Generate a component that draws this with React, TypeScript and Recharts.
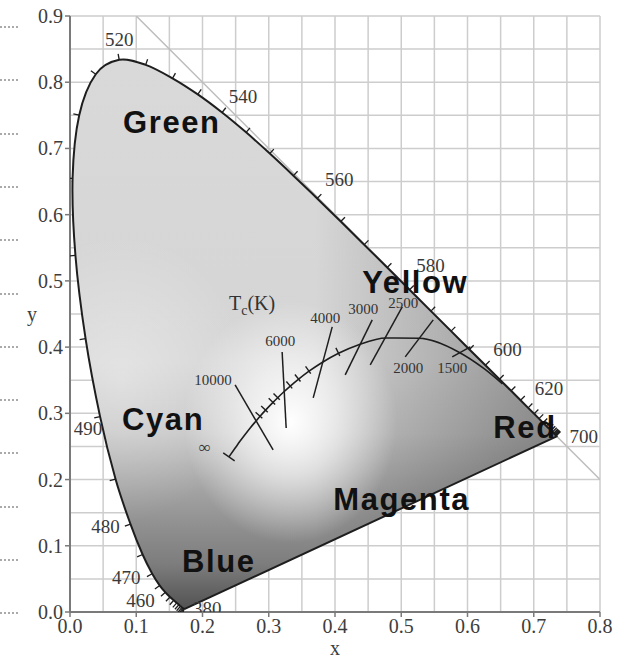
import React from 'react'
import { ScatterChart, Scatter, XAxis, YAxis, CartesianGrid, Curve } from 'recharts'

// CIE 1931 spectral locus, 5 nm steps
const wavelengths = [
  380, 385, 390, 395, 400, 405, 410, 415, 420, 425, 430, 435, 440, 445, 450, 455, 460, 465, 470, 475,
  480, 485, 490, 495, 500, 505, 510, 515, 520, 525, 530, 535, 540, 545, 550, 555, 560, 565, 570, 575,
  580, 585, 590, 595, 600, 605, 610, 615, 620, 625, 630, 635, 640, 645, 650, 655, 660, 665, 670, 675,
  680, 685, 690, 695, 700,
]
const locusX = [
  0.1741, 0.174, 0.1738, 0.1736, 0.1733, 0.173, 0.1726, 0.1721, 0.1714, 0.1703, 0.1689, 0.1669, 0.1644,
  0.1611, 0.1566, 0.151, 0.144, 0.1355, 0.1241, 0.1096, 0.0913, 0.0687, 0.0454, 0.0235, 0.0082, 0.0039,
  0.0139, 0.0389, 0.0743, 0.1142, 0.1547, 0.1929, 0.2296, 0.2658, 0.3016, 0.3373, 0.3731, 0.4087, 0.4441,
  0.4788, 0.5125, 0.5448, 0.5752, 0.6029, 0.627, 0.6482, 0.6658, 0.6801, 0.6915, 0.7006, 0.7079, 0.714,
  0.719, 0.723, 0.726, 0.7283, 0.73, 0.7311, 0.732, 0.7327, 0.7334, 0.734, 0.7344, 0.7346, 0.7347,
]
const locusY = [
  0.005, 0.005, 0.0049, 0.0049, 0.0048, 0.0048, 0.0048, 0.0048, 0.0051, 0.0058, 0.0069, 0.0086, 0.0109,
  0.0138, 0.0177, 0.0227, 0.0297, 0.0399, 0.0578, 0.0868, 0.1327, 0.2007, 0.295, 0.4127, 0.5384, 0.6548,
  0.7502, 0.812, 0.8338, 0.8262, 0.8059, 0.7816, 0.7543, 0.7243, 0.6923, 0.6589, 0.6245, 0.5896, 0.5547,
  0.5202, 0.4866, 0.4544, 0.4242, 0.3965, 0.3725, 0.3514, 0.334, 0.3197, 0.3083, 0.2993, 0.292, 0.2859,
  0.2809, 0.277, 0.274, 0.2717, 0.27, 0.2689, 0.268, 0.2673, 0.2666, 0.266, 0.2656, 0.2654, 0.2653,
]
const labeledWavelengths = [380, 460, 470, 480, 490, 500, 520, 540, 560, 580, 600, 620, 700]

// Planckian locus, from infinity down to 1000 K
const planckTemps = [
  Infinity, 30000, 20000, 15000, 12000, 10000, 9000, 8000, 7000, 6500, 6000, 5500, 5000, 4500, 4000,
  3500, 3000, 2500, 2000, 1500, 1200, 1000,
]
const planckX = [
  0.2399, 0.2501, 0.2565, 0.2637, 0.272, 0.2807, 0.2869, 0.2952, 0.3064, 0.3135, 0.3221, 0.3325, 0.3451,
  0.3608, 0.3805, 0.4053, 0.4369, 0.477, 0.5267, 0.5857, 0.6251, 0.6528,
]
const planckY = [
  0.2342, 0.2487, 0.2577, 0.2673, 0.2779, 0.2883, 0.2956, 0.3048, 0.3166, 0.3236, 0.3318, 0.3411, 0.3516,
  0.3636, 0.3768, 0.3907, 0.4041, 0.4137, 0.4133, 0.3931, 0.3674, 0.3444,
]
const planckTickTemps = [9000, 8000, 7000, 6500, 5500, 5000, 4500, 3500]

// isotherm segments (upper end, lower end)
const isoTemps = [10000, 6000, 4000, 3000, 2500, 2000, 1500]
const isoX1 = [0.2492, 0.3202, 0.3958, 0.4562, 0.5015, 0.5483, 0.6042]
const isoY1 = [0.3429, 0.3927, 0.4305, 0.4411, 0.4607, 0.4411, 0.4003]
const isoX2 = [0.3066, 0.3263, 0.3671, 0.4154, 0.4532, 0.506, 0.577]
const isoY2 = [0.2447, 0.2779, 0.3233, 0.358, 0.3731, 0.3852, 0.3852]

const xTicks = [0, 0.05, 0.1, 0.15, 0.2, 0.25, 0.3, 0.35, 0.4, 0.45, 0.5, 0.55, 0.6, 0.65, 0.7, 0.75, 0.8]
const yTicks = [
  0, 0.05, 0.1, 0.15, 0.2, 0.25, 0.3, 0.35, 0.4, 0.45, 0.5, 0.55, 0.6, 0.65, 0.7, 0.75, 0.8, 0.85, 0.9,
]

const regionNames = ['Green', 'Cyan', 'Yellow', 'Red', 'Magenta', 'Blue']
const regionX = [0.0801, 0.0785, 0.4411, 0.639, 0.3973, 0.1692]
const regionY = [0.7236, 0.2749, 0.4819, 0.2628, 0.1541, 0.0604]

const locusData = wavelengths.map((w, i) => ({ x: locusX[i], y: locusY[i], w }))
const planckData = planckTemps.map((t, i) => ({ x: planckX[i], y: planckY[i], t }))
const isoData = isoTemps.flatMap((t, i) => [
  { x: isoX1[i], y: isoY1[i], t },
  { x: isoX2[i], y: isoY2[i], t },
])
const diagonalData = [
  { x: 0.1, y: 0.9 },
  { x: 0.8, y: 0.2 },
]
const regionData = regionNames.map((name, i) => ({ x: regionX[i], y: regionY[i], name }))
const tcData = [{ x: 0.24, y: 0.456 }]

// label placement, in pixels from the anchor point
const wlOffsets: Record<number, [number, number]> = {
  380: [22, 0], 460: [-25, 8], 470: [-26, 4], 480: [-25, 2], 490: [-12, 12], 500: [-27, -2],
  520: [0, -20], 540: [21, -16], 560: [22, -19], 580: [21, -24], 600: [22, -16], 620: [21, -19],
  700: [27, 0],
}
const isoLabelOffsets: [number, number, number][] = [
  [0, -22, -5], [0, -2, -11], [0, -7, -9], [0, -9, -11], [0, 1, -4], [1, 3, 11], [1, 0, 11],
]

const serif = '"Liberation Serif", "Times New Roman", serif'
const sans = '"Liberation Sans", Arial, sans-serif'
const ink = '#1e1e1e'

const isMajor = (v: number) => Math.abs(v * 10 - Math.round(v * 10)) < 1e-6
const getPts = (props: any) => (props.points || []) as { x: number; y: number }[]
const noDot = () => <g />

// smooth path through the points (catmull-rom, handles clamped for uneven spacing)
function smoothPath(pts: { x: number; y: number }[]) {
  let d = `M${pts[0].x},${pts[0].y}`
  for (let i = 0; i < pts.length - 1; i++) {
    const p0 = pts[Math.max(0, i - 1)]
    const p1 = pts[i]
    const p2 = pts[i + 1]
    const p3 = pts[Math.min(pts.length - 1, i + 2)]
    const seg = Math.hypot(p2.x - p1.x, p2.y - p1.y)
    const clamp = (hx: number, hy: number) => {
      const l = Math.hypot(hx, hy)
      const m = seg * 0.4
      return l > m && l > 0 ? [(hx * m) / l, (hy * m) / l] : [hx, hy]
    }
    const [ax, ay] = clamp((p2.x - p0.x) / 6, (p2.y - p0.y) / 6)
    const [bx, by] = clamp((p3.x - p1.x) / 6, (p3.y - p1.y) / 6)
    d += ` C${p1.x + ax},${p1.y + ay} ${p2.x - bx},${p2.y - by} ${p2.x},${p2.y}`
  }
  return d
}

function XTick({ x, y, payload }: any) {
  if (!isMajor(payload.value)) return <g />
  return (
    <g>
      <line x1={x} x2={x} y1={y - 7} y2={y - 2} stroke="#7a7a7a" strokeWidth={1.5} />
      <text x={x} y={y} dy="0.71em" textAnchor="middle" fontFamily={serif} fontSize={20} fill="#3d3d3d">
        {payload.value.toFixed(1)}
      </text>
    </g>
  )
}

function YTick({ x, y, payload }: any) {
  if (!isMajor(payload.value)) return <g />
  return (
    <g>
      <line x1={x + 2} x2={x + 7} y1={y} y2={y} stroke="#7a7a7a" strokeWidth={1.5} />
      <text x={x} y={y} dy="0.35em" textAnchor="end" fontFamily={serif} fontSize={20} fill="#3d3d3d">
        {payload.value.toFixed(1)}
      </text>
    </g>
  )
}

function renderLocus(props: any) {
  const pts = getPts(props)
  if (pts.length < 2) return <g />
  const d = smoothPath(pts) + ' Z'
  const ticks = pts.map((p, i) => {
    const a = pts[Math.max(0, i - 1)]
    const b = pts[Math.min(pts.length - 1, i + 1)]
    const tx = b.x - a.x
    const ty = b.y - a.y
    const len = Math.hypot(tx, ty)
    if (len < 0.8) return null
    const nx = ty / len
    const ny = -tx / len
    const w = wavelengths[i]
    const L = w === 500 ? 12 : 6
    return (
      <line key={w} x1={p.x} y1={p.y} x2={p.x + nx * L} y2={p.y + ny * L} stroke={ink} strokeWidth={1.3} />
    )
  })
  const labels = labeledWavelengths.map((w) => {
    const i = wavelengths.indexOf(w)
    const p = pts[i]
    const [dx, dy] = wlOffsets[w]
    return (
      <text
        key={w}
        x={p.x + dx}
        y={p.y + dy}
        dy="0.35em"
        textAnchor="middle"
        fontFamily={serif}
        fontSize={19}
        fill="#3a3a3a"
      >
        {w}
      </text>
    )
  })
  return (
    <g>
      <defs>
        <linearGradient id="locusBase" x1="0" y1="0" x2="0" y2="1">
          <stop offset="0" stopColor="#d9d9d9" />
          <stop offset="0.55" stopColor="#d5d5d5" />
          <stop offset="0.68" stopColor="#c4c4c4" />
          <stop offset="0.8" stopColor="#9e9e9e" />
          <stop offset="0.92" stopColor="#7c7c7c" />
          <stop offset="1" stopColor="#525252" />
        </linearGradient>
        <linearGradient id="locusRed" x1="0" y1="0" x2="1" y2="0">
          <stop offset="0.5" stopColor="#000" stopOpacity={0} />
          <stop offset="1" stopColor="#000" stopOpacity={0.32} />
        </linearGradient>
        <radialGradient id="locusWhite" cx="0.45" cy="0.66" r="0.22">
          <stop offset="0" stopColor="#fff" stopOpacity={1} />
          <stop offset="0.45" stopColor="#fff" stopOpacity={0.6} />
          <stop offset="1" stopColor="#fff" stopOpacity={0} />
        </radialGradient>
        <radialGradient id="locusCyan" cx="0.1" cy="0.58" r="0.26">
          <stop offset="0" stopColor="#fff" stopOpacity={0.35} />
          <stop offset="1" stopColor="#fff" stopOpacity={0} />
        </radialGradient>
      </defs>
      <path d={d} fill="url(#locusBase)" />
      <path d={d} fill="url(#locusRed)" />
      <path d={d} fill="url(#locusCyan)" />
      <path d={d} fill="url(#locusWhite)" />
      <path d={d} fill="none" stroke={ink} strokeWidth={2} strokeLinejoin="round" />
      {ticks}
      {labels}
    </g>
  )
}

function renderPlanck(props: any) {
  const pts = getPts(props)
  if (pts.length < 2) return <g />
  const perp = (i: number, a: number, b: number, key: string) => {
    const p = pts[i]
    const q = pts[Math.max(0, i - 1)]
    const r = pts[Math.min(pts.length - 1, i + 1)]
    const tx = r.x - q.x
    const ty = r.y - q.y
    const len = Math.hypot(tx, ty) || 1
    const nx = ty / len
    const ny = -tx / len
    return (
      <line key={key} x1={p.x - nx * a} y1={p.y - ny * a} x2={p.x + nx * b} y2={p.y + ny * b} stroke={ink} strokeWidth={1.4} />
    )
  }
  const ticks = planckTemps.map((t, i) => (planckTickTemps.includes(t) ? perp(i, 3, 6, `t${t}`) : null))
  const start = pts[0]
  return (
    <g>
      <Curve type="monotoneX" points={pts} stroke={ink} strokeWidth={1.6} fill="none" />
      {ticks}
      {perp(0, 7, 7, 'cap')}
      <text x={start.x - 24} y={start.y - 10} dy="0.35em" textAnchor="middle" fontFamily={serif} fontSize={17} fill="#333">
        ∞
      </text>
    </g>
  )
}

function renderIsotherms(props: any) {
  const pts = getPts(props)
  return (
    <g>
      {isoTemps.map((t, k) => {
        const a = pts[2 * k]
        const b = pts[2 * k + 1]
        if (!a || !b) return null
        const [end, dx, dy] = isoLabelOffsets[k]
        const anchor = end ? b : a
        return (
          <g key={t}>
            <line x1={a.x} y1={a.y} x2={b.x} y2={b.y} stroke={ink} strokeWidth={1.5} />
            <text x={anchor.x + dx} y={anchor.y + dy} dy="0.35em" textAnchor="middle" fontFamily={serif} fontSize={15} fill="#333">
              {t}
            </text>
          </g>
        )
      })}
    </g>
  )
}

function renderDiagonal(props: any) {
  const pts = getPts(props)
  if (pts.length < 2) return <g />
  return <line x1={pts[0].x} y1={pts[0].y} x2={pts[1].x} y2={pts[1].y} stroke="#bdbdbd" strokeWidth={1.5} />
}

function RegionLabel(props: any) {
  const { cx, cy, payload } = props
  return (
    <text x={cx} y={cy} fontFamily={sans} fontWeight="bold" fontSize={31} letterSpacing={1.6} fill="#111">
      {payload.name}
    </text>
  )
}

function TcLabel(props: any) {
  const { cx, cy } = props
  return (
    <text x={cx} y={cy} fontFamily={serif} fontSize={20} fill="#333">
      T
      <tspan fontSize={14} dy={5}>
        c
      </tspan>
      <tspan dy={-5}>(K)</tspan>
    </text>
  )
}

const dotRows = Array.from({ length: 12 }, (_, i) => Math.round(26 + i * 53.3))

export default function App() {
  return (
    <div style={{ position: 'absolute', left: 0, top: 0, width: 618, height: 659, background: '#fff' }}>
      {dotRows.map((top) => (
        <div key={top} style={{ position: 'absolute', left: 0, top, width: 18, borderTop: '2px dotted #aaa' }} />
      ))}
      <ScatterChart width={618} height={659} margin={{ top: 16, right: 18, bottom: 0, left: 0 }}>
        <CartesianGrid stroke="#cdcdcd" strokeWidth={1.5} />
        <XAxis
          type="number"
          dataKey="x"
          domain={[0, 0.8]}
          ticks={xTicks}
          interval={0}
          allowDataOverflow
          height={47}
          tickSize={5}
          tickLine={false}
          axisLine={{ stroke: '#7a7a7a', strokeWidth: 2 }}
          tick={<XTick />}
          label={{ value: 'x', position: 'insideBottom', offset: 4, fontFamily: serif, fontSize: 20, fill: '#3d3d3d' }}
        />
        <YAxis
          type="number"
          dataKey="y"
          domain={[0, 0.9]}
          ticks={yTicks}
          interval={0}
          allowDataOverflow
          width={70}
          tickSize={5}
          tickLine={false}
          axisLine={{ stroke: '#7a7a7a', strokeWidth: 2 }}
          tick={<YTick />}
          label={{ value: 'y', position: 'insideLeft', offset: 27, fontFamily: serif, fontSize: 20, fill: '#3d3d3d' }}
        />
        <Scatter data={diagonalData} line={renderDiagonal} shape={noDot} isAnimationActive={false} />
        <Scatter data={locusData} line={renderLocus} shape={noDot} isAnimationActive={false} />
        <Scatter data={planckData} line={renderPlanck} shape={noDot} isAnimationActive={false} />
        <Scatter data={isoData} line={renderIsotherms} shape={noDot} isAnimationActive={false} />
        <Scatter data={tcData} shape={TcLabel} isAnimationActive={false} />
        <Scatter data={regionData} shape={RegionLabel} isAnimationActive={false} />
      </ScatterChart>
    </div>
  )
}
